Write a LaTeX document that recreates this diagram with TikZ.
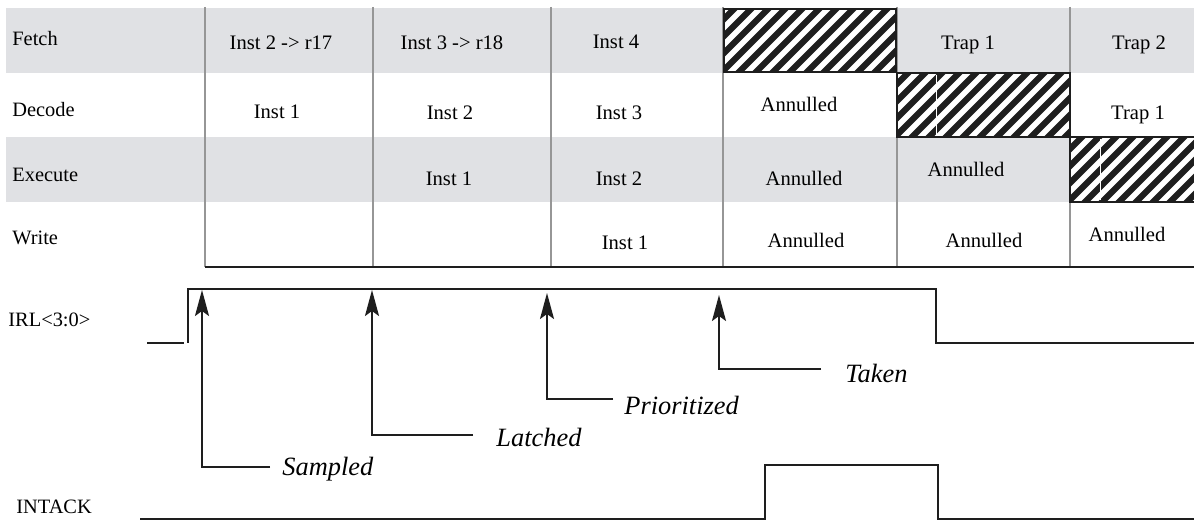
\documentclass[tikz,border=0pt]{standalone}
\usepackage{fontspec}
\setmainfont{Liberation Serif}
\usetikzlibrary{arrows.meta}
\definecolor{bandgray}{RGB}{224,225,228}
\definecolor{gridgray}{RGB}{150,150,150}
\definecolor{inkblack}{RGB}{30,30,30}
\newcommand\hatchbox[4]{%
  \begin{scope}
    \clip (#1,#2) rectangle (#3,#4);
    \fill[white] (#1,#2) rectangle (#3,#4);
    \foreach \k in {0,...,16} {
      \draw[inkblack,line width=3.1pt] ({#1-75+\k*17},{#4+5}) -- ++(80,-80);
    }
  \end{scope}
  \draw[inkblack,line width=1pt] (#1,#2) rectangle (#3,#4);
}
\tikzset{
  cell/.style={anchor=base,inner sep=0pt,font=\fontsize{10.3}{12}\selectfont},
  rowlabel/.style={anchor=base west,inner sep=0pt,font=\fontsize{10.2}{12}\selectfont},
  event/.style={anchor=base west,inner sep=0pt,font=\fontsize{13.2}{15}\selectfont\itshape},
  wave/.style={inkblack,line width=1pt},
  leader/.style={inkblack,line width=1pt,-{Stealth[length=13pt,width=7pt,inset=2.5pt]}},
  gridline/.style={gridgray,line width=0.8pt},
}
\begin{document}
\begin{tikzpicture}[x=0.5pt,y=-0.5pt]
\useasboundingbox (0,0) rectangle (1194,523);
\fill[white] (0,0) rectangle (1194,523);
% bands
\fill[bandgray] (6,8) rectangle (1194,73);
\fill[bandgray] (6,137) rectangle (1194,202);
% grid lines
\foreach \x in {205,373,551,723,897,1070} {
  \draw[gridline] (\x,7) -- (\x,267);
}
\draw[inkblack,line width=1pt] (205,267) -- (1194,267);
% hatched boxes
\hatchbox{724}{9}{896}{72}
\hatchbox{897}{73}{1070}{137}
\hatchbox{1070}{137}{1196}{202}
\draw[white,line width=0.5pt] (936,75) -- (936,135);
\draw[white,line width=0.5pt] (1100,139) -- (1100,200);
% row labels
\node[rowlabel] (lf) at (12,46) {Fetch};
\node[rowlabel] (ld) at (12,117) {Decode};
\node[rowlabel] (le) at (12,182) {Execute};
\node[rowlabel] (lw) at (12,245) {Write};
\node[rowlabel] (lirl) at (8,327) {IRL<3:0>};
\node[rowlabel] (lint) at (16,513) {INTACK};
% fetch
\node[cell] (f1) at (281,50) {Inst 2 -> r17};
\node[cell] (f2) at (452,50) {Inst 3 -> r18};
\node[cell] (f3) at (616,49) {Inst 4};
\node[cell] (f5) at (968,50) {Trap 1};
\node[cell] (f6) at (1139,50) {Trap 2};
% decode
\node[cell] (d1) at (277,119) {Inst 1};
\node[cell] (d2) at (450,120) {Inst 2};
\node[cell] (d3) at (619,120) {Inst 3};
\node[cell] (d4) at (799,112) {Annulled};
\node[cell] (d6) at (1138,120) {Trap 1};
% execute
\node[cell] (e2) at (449,186) {Inst 1};
\node[cell] (e3) at (619,186) {Inst 2};
\node[cell] (e4) at (804,186) {Annulled};
\node[cell] (e5) at (966,177) {Annulled};
% write
\node[cell] (w3) at (625,250) {Inst 1};
\node[cell] (w4) at (806,248) {Annulled};
\node[cell] (w5) at (984,248) {Annulled};
\node[cell] (w6) at (1127,242) {Annulled};
% IRL waveform
\coordinate (ia) at (147,343);
\coordinate (ib) at (184,343);
\coordinate (ic) at (188,343);
\coordinate (id) at (188,289);
\coordinate (ie) at (936,289);
\coordinate (if) at (936,343);
\coordinate (ig) at (1194,343);
\draw[wave] (ia) -- (ib);
\draw[wave] (ic) -- (id) -- (ie) -- (if) -- (ig);
% INTACK waveform
\coordinate (na) at (140,519);
\coordinate (nb) at (765,519);
\coordinate (nc) at (765,465);
\coordinate (nd) at (938,465);
\coordinate (ne) at (938,519);
\coordinate (nf) at (1194,519);
\draw[wave] (na) -- (nb) -- (nc) -- (nd) -- (ne) -- (nf);
% event labels and leaders
\node[event] (sampled) at (282,475) {Sampled};
\node[event] (latched) at (496,447) {Latched};
\node[event] (prio) at (624,415) {Prioritized};
\node[event] (taken) at (845,383) {Taken};
\coordinate (s0) at (270,467); \coordinate (s1) at (202,467); \coordinate (s2) at (202,290);
\coordinate (l0) at (473,435); \coordinate (l1) at (372,435); \coordinate (l2) at (372,290);
\coordinate (p0) at (613,399); \coordinate (p1) at (547,399); \coordinate (p2) at (547,293);
\coordinate (t0) at (821,369); \coordinate (t1) at (719,369); \coordinate (t2) at (719,295);
\draw[leader] (s0) -- (s1) -- (s2);
\draw[leader] (l0) -- (l1) -- (l2);
\draw[leader] (p0) -- (p1) -- (p2);
\draw[leader] (t0) -- (t1) -- (t2);
\end{tikzpicture}
\end{document}
